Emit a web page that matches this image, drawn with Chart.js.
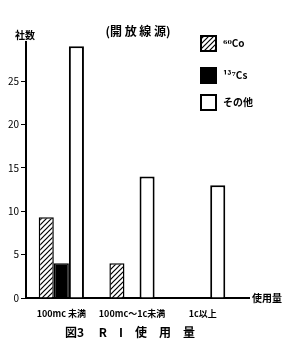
<!DOCTYPE html>
<html>
<head>
<meta charset="utf-8">
<script src="https://cdn.jsdelivr.net/npm/chart.js@4.4.0/dist/chart.umd.min.js"></script>
<style>
  html, body { margin: 0; padding: 0; background: #fff; }
  #wrap { width: 300px; height: 348px; position: relative; }
</style>
</head>
<body>
<div id="wrap"><canvas id="myChart" width="300" height="348"></canvas></div>
<script>
const labels = ['100mc 未満', '100mc～1c未満', '1c以上'];
const co60 = [9.3, 4, 0];
const cs137 = [4, 0, 0];
const others = [29, 14, 13];
const yTicks = [0, 5, 10, 15, 20, 25];

const FONT = '"Noto Sans CJK JP", "DejaVu Serif", serif';

// hatched fill for 60Co
function makeHatch() {
    const c = document.createElement('canvas');
    c.width = 5;
    c.height = 5;
    const g = c.getContext('2d');
    g.fillStyle = '#fff';
    g.fillRect(0, 0, 5, 5);
    g.strokeStyle = '#000';
    g.lineWidth = 1.2;
    g.beginPath();
    g.moveTo(0, 5); g.lineTo(5, 0);
    g.moveTo(-1, 1); g.lineTo(1, -1);
    g.moveTo(4, 6); g.lineTo(6, 4);
    g.stroke();
    return g.createPattern(c, 'repeat');
}
const hatch = makeHatch();

// titles, axis name, caption and legend drawn on top
const decor = {
    id: 'decor',
    afterDraw(chart) {
        const ctx = chart.ctx;
        const area = chart.chartArea;
        ctx.save();
        ctx.fillStyle = '#000';
        ctx.textBaseline = 'middle';

        ctx.font = 'bold 12px ' + FONT;
        ctx.textAlign = 'center';
        ctx.fillText('(開 放 線 源)', 138, 31);

        ctx.font = 'bold 10px ' + FONT;
        ctx.fillText('社数', 25, 35);

        // x axis extension and its name
        ctx.strokeStyle = '#000';
        ctx.lineWidth = 2;
        ctx.beginPath();
        ctx.moveTo(area.right, area.bottom);
        ctx.lineTo(250, area.bottom);
        ctx.stroke();
        ctx.font = 'bold 10px ' + FONT;
        ctx.textAlign = 'left';
        ctx.fillText('使用量', 252, area.bottom);

        ctx.font = 'bold 12px ' + FONT;
        ctx.textAlign = 'center';
        ctx.fillText('図3　 R　I　使　用　量', 130, 332);

        // legend
        const ys = [43, 75, 102];
        chart.data.datasets.forEach((ds, i) => {
            const y = ys[i];
            ctx.fillStyle = ds.backgroundColor;
            ctx.fillRect(201, y - 7, 15, 15);
            ctx.lineWidth = 2;
            ctx.strokeStyle = '#000';
            ctx.strokeRect(201, y - 7, 15, 15);
            ctx.fillStyle = '#000';
            ctx.font = 'bold 10px ' + FONT;
            ctx.textAlign = 'left';
            ctx.fillText(ds.label, 223, y);
        });
        ctx.restore();
    }
};

const config = {
    type: 'bar',
    data: {
        labels: labels,
        datasets: [
            {
                label: '⁶⁰Co',
                data: co60,
                backgroundColor: hatch,
                borderColor: '#000',
                borderWidth: 1.5
            },
            {
                label: '¹³⁷Cs',
                data: cs137,
                backgroundColor: '#000',
                borderColor: '#000',
                borderWidth: 1.5
            },
            {
                label: 'その他',
                data: others,
                backgroundColor: '#fff',
                borderColor: '#000',
                borderWidth: 2
            }
        ]
    },
    options: {
        responsive: false,
        animation: false,
        datasets: {
            bar: {
                categoryPercentage: 0.64,
                barPercentage: 1.0,
                borderSkipped: 'bottom'
            }
        },
        layout: { padding: { top: 42, right: 62, left: 0, bottom: 0 } },
        plugins: {
            legend: { display: false },
            tooltip: { enabled: false },
            title: { display: false }
        },
        scales: {
            x: {
                grid: { display: false },
                border: { display: true, color: '#000', width: 2 },
                ticks: {
                    color: '#000',
                    font: { family: FONT, size: 9, weight: 'bold' },
                    maxRotation: 0,
                    autoSkip: false,
                    padding: 2
                },
                afterFit(scale) { scale.height = 50; }
            },
            y: {
                min: 0,
                max: 29.5,
                afterBuildTicks(scale) {
                    scale.ticks = yTicks.map(v => ({ value: v }));
                },
                grid: {
                    drawOnChartArea: false,
                    drawTicks: true,
                    tickLength: 5,
                    color: '#000',
                    lineWidth: 1
                },
                border: { display: true, color: '#000', width: 2 },
                ticks: {
                    color: '#000',
                    font: { family: FONT, size: 10 },
                    padding: 2
                },
                afterFit(scale) { scale.width = 26; }
            }
        }
    },
    plugins: [decor]
};

const myChart = new Chart(
    document.getElementById('myChart'),
    config
);
</script>
</body>
</html>
